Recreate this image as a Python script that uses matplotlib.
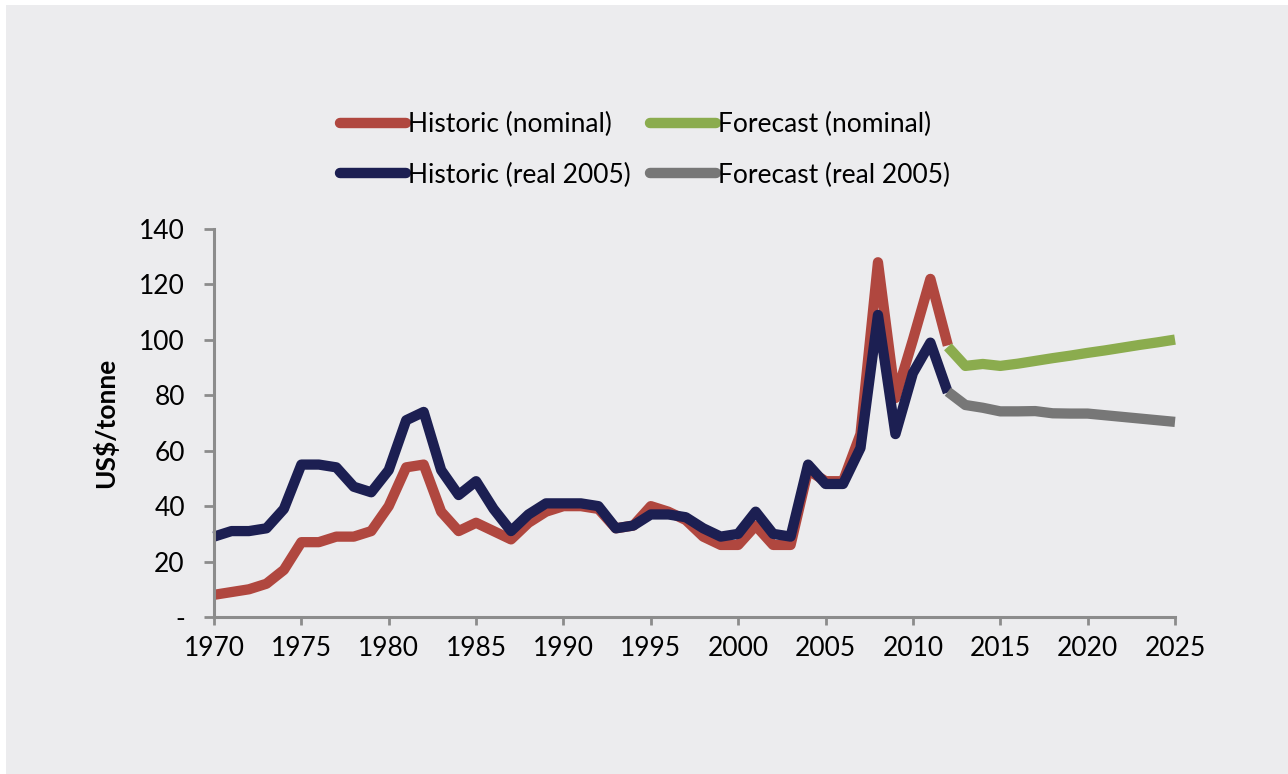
"""Iron ore price: historic vs forecast, nominal and real 2005 US$/tonne."""

import matplotlib.pyplot as plt
from matplotlib.patches import Rectangle

plt.rcParams["font.family"] = ["Lato", "DejaVu Sans"]

hist_years = list(range(1970, 2013))
hist_nominal = [8, 9, 10, 12, 17, 27, 27, 29, 29, 31,
                40, 54, 55, 38, 31, 34, 31, 28, 34, 38,
                40, 40, 39, 32, 33, 40, 38, 35, 29, 26,
                26, 33, 26, 26, 53, 49, 49, 66, 128, 79,
                100, 122, 98]
hist_real = [29, 31, 31, 32, 39, 55, 55, 54, 47, 45,
             53, 71, 74, 53, 44, 49, 39, 31, 37, 41,
             41, 41, 40, 32, 33, 37, 37, 36, 32, 29,
             30, 38, 30, 29, 55, 48, 48, 61, 109, 66,
             88, 99, 81]

fc_years = list(range(2012, 2026))
fc_nominal = [97.5, 90.6, 91.3, 90.6, 91.4, 92.4, 93.4, 94.3, 95.3,
              96.2, 97.2, 98.2, 99.1, 100.1]
fc_real = [81.3, 76.5, 75.5, 74.2, 74.2, 74.3, 73.5, 73.4, 73.4,
           72.8, 72.2, 71.6, 71.0, 70.4]

RED = "#B0473F"
NAVY = "#1C1F52"
GREEN = "#8BAC4E"
GREY = "#777777"
BG = "#ECECEE"


def main() -> None:
    fig = plt.figure(figsize=(12.88, 7.74), dpi=100, facecolor="white")
    fig.patches.append(Rectangle((6 / 1288, 0), 1 - 6 / 1288, 1 - 5 / 774,
                                 transform=fig.transFigure, facecolor=BG,
                                 edgecolor="none", zorder=-5))

    ax = fig.add_axes([214 / 1288, 1 - 617 / 774, (1175 - 214) / 1288, (617 - 229) / 774])
    ax.set_facecolor("none")

    style = dict(linewidth=7.4, solid_joinstyle="round", solid_capstyle="butt", clip_on=False)
    l1, = ax.plot(hist_years, hist_nominal, color=RED, label="Historic (nominal)", **style)
    l2, = ax.plot(hist_years, hist_real, color=NAVY, label="Historic (real 2005)", **style)
    l3, = ax.plot(fc_years, fc_nominal, color=GREEN, label="Forecast (nominal)", **style)
    l4, = ax.plot(fc_years, fc_real, color=GREY, label="Forecast (real 2005)", **style)

    ax.set_xlim(1970, 2025)
    ax.set_ylim(0, 140)
    ax.set_xticks(range(1970, 2026, 5))
    ax.set_yticks(range(0, 141, 20))
    ax.set_yticklabels(["-"] + [str(v) for v in range(20, 141, 20)])

    for side in ("top", "right"):
        ax.spines[side].set_visible(False)
    for side in ("left", "bottom"):
        ax.spines[side].set_color("#8C8C8C")
        ax.spines[side].set_linewidth(2.2)
    ax.tick_params(axis="both", colors="#8C8C8C", width=2.0, labelcolor="black", labelsize=19)
    ax.tick_params(axis="y", length=7, pad=14)
    ax.tick_params(axis="x", length=6, pad=8)

    ax.set_ylabel("US$/tonne", fontsize=19, fontweight="bold")
    ax.yaxis.set_label_coords(-0.10, 0.5)

    leg = fig.legend(handles=[l1, l2, l3, l4], ncol=2, loc="center",
                     bbox_to_anchor=(645 / 1288, 1 - 150 / 774),
                     frameon=False, fontsize=19, handlelength=2.5,
                     handletextpad=0.1, columnspacing=0.7, labelspacing=0.95,
                     borderpad=0)
    for line in leg.get_lines():
        line.set_linewidth(7.5)
        line.set_solid_capstyle("round")

    fig.savefig("out.png", dpi=100, facecolor=fig.get_facecolor())


if __name__ == "__main__":
    main()
